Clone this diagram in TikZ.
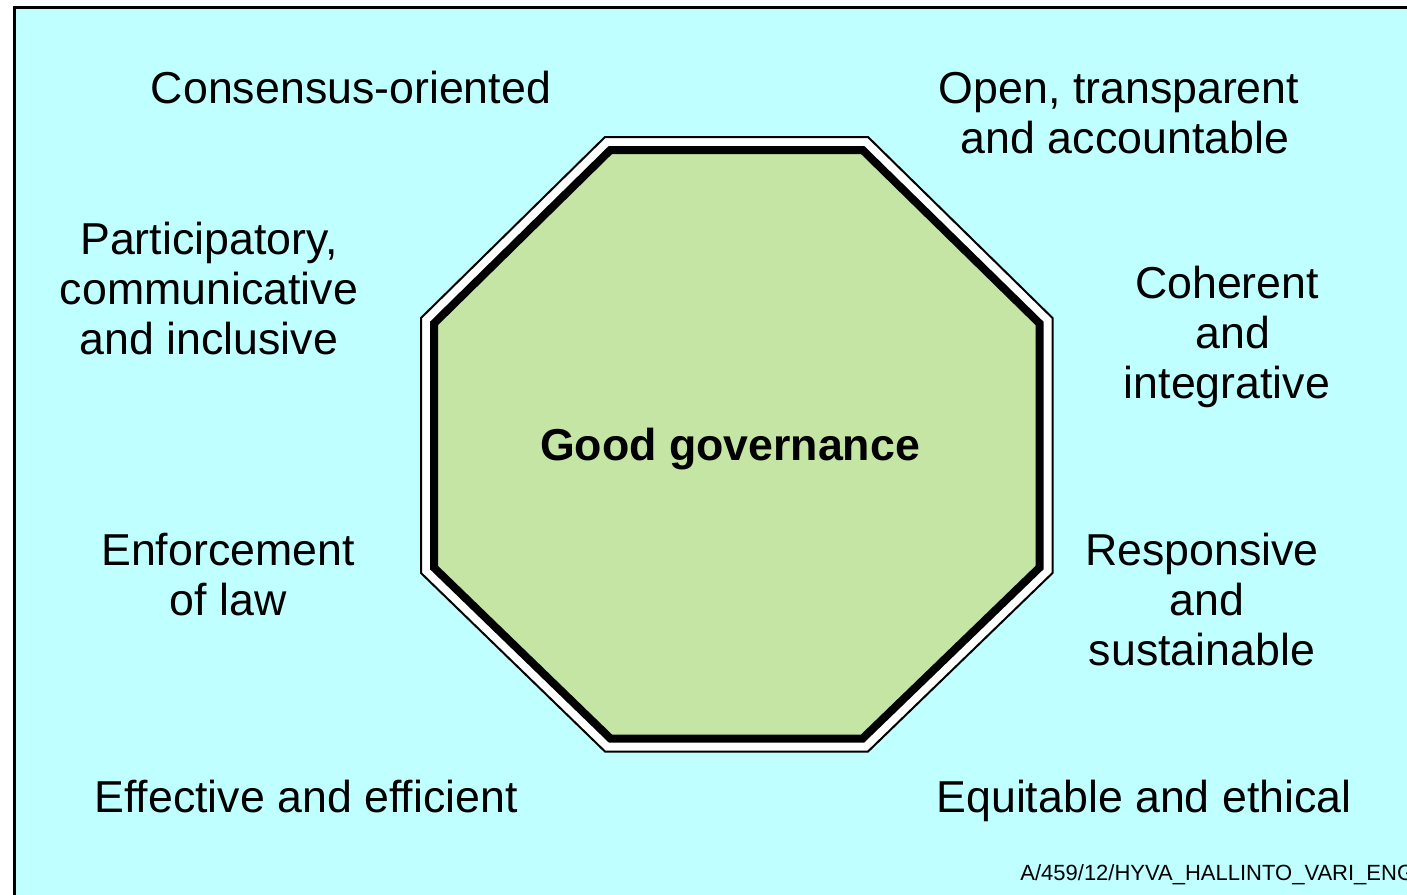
\documentclass[tikz,border=0pt]{standalone}
\usepackage{fontspec}
\setmainfont{Liberation Sans}
\definecolor{bgcyan}{RGB}{192,255,255}
\definecolor{octgreen}{RGB}{197,229,165}
\begin{document}
\begin{tikzpicture}[x=0.5pt,y=-0.5pt,
  lbl/.style={anchor=base,inner sep=0pt,font=\fontsize{22.35}{25}\selectfont},
  title/.style={anchor=base,inner sep=0pt,font=\fontsize{22.35}{25}\selectfont\bfseries},
  foot/.style={anchor=base west,inner sep=0pt,font=\fontsize{11}{13}\selectfont}]
\useasboundingbox (0,0) rectangle (1407,894);
\clip (0,0) rectangle (1407,894);
\fill[white] (0,0) rectangle (1407,894);
\draw[line width=1.5pt, fill=bgcyan] (14,7.5) rectangle (1430,920);
% octagon: outer thin outline with white band
\draw[line width=1pt, fill=white] (605,137) -- (868,137) -- (1052.5,318) -- (1052.5,573) -- (868,751.5) -- (605,751.5) -- (421,573) -- (421,318) -- cycle;
% inner thick outline with green fill
\draw[line width=4pt, fill=octgreen] (610.4,150) -- (862.6,150) -- (1039.5,323.4) -- (1039.5,567.6) -- (862.6,738.5) -- (610.4,738.5) -- (434,567.6) -- (434,323.4) -- cycle;
\node[title] (gg) at (730,460) {Good governance};
\node[lbl] (cons) at (351,103) {Consensus-oriented};
\node[lbl] (open1) at (1119,103) {Open, transparent};
\node[lbl] (open2) at (1125,153) {and accountable};
\node[lbl] (part1) at (209,254) {Participatory,};
\node[lbl] (part2) at (209,304) {communicative};
\node[lbl] (part3) at (209,354) {and inclusive};
\node[lbl] (coh1) at (1227,298) {Coherent};
\node[lbl] (coh2) at (1233,348) {and};
\node[lbl] (coh3) at (1227,398) {integrative};
\node[lbl] (enf1) at (228,565) {Enforcement};
\node[lbl] (enf2) at (228,615) {of law};
\node[lbl] (resp1) at (1202,565) {Responsive};
\node[lbl] (resp2) at (1207,615) {and};
\node[lbl] (resp3) at (1202,665) {sustainable};
\node[lbl] (eff) at (306,812) {Effective and efficient};
\node[lbl] (equ) at (1144,812) {Equitable and ethical};
\node[foot] (code) at (1020,880) {A/459/12/HYVA\_HALLINTO\_VARI\_ENG};
\end{tikzpicture}
\end{document}
